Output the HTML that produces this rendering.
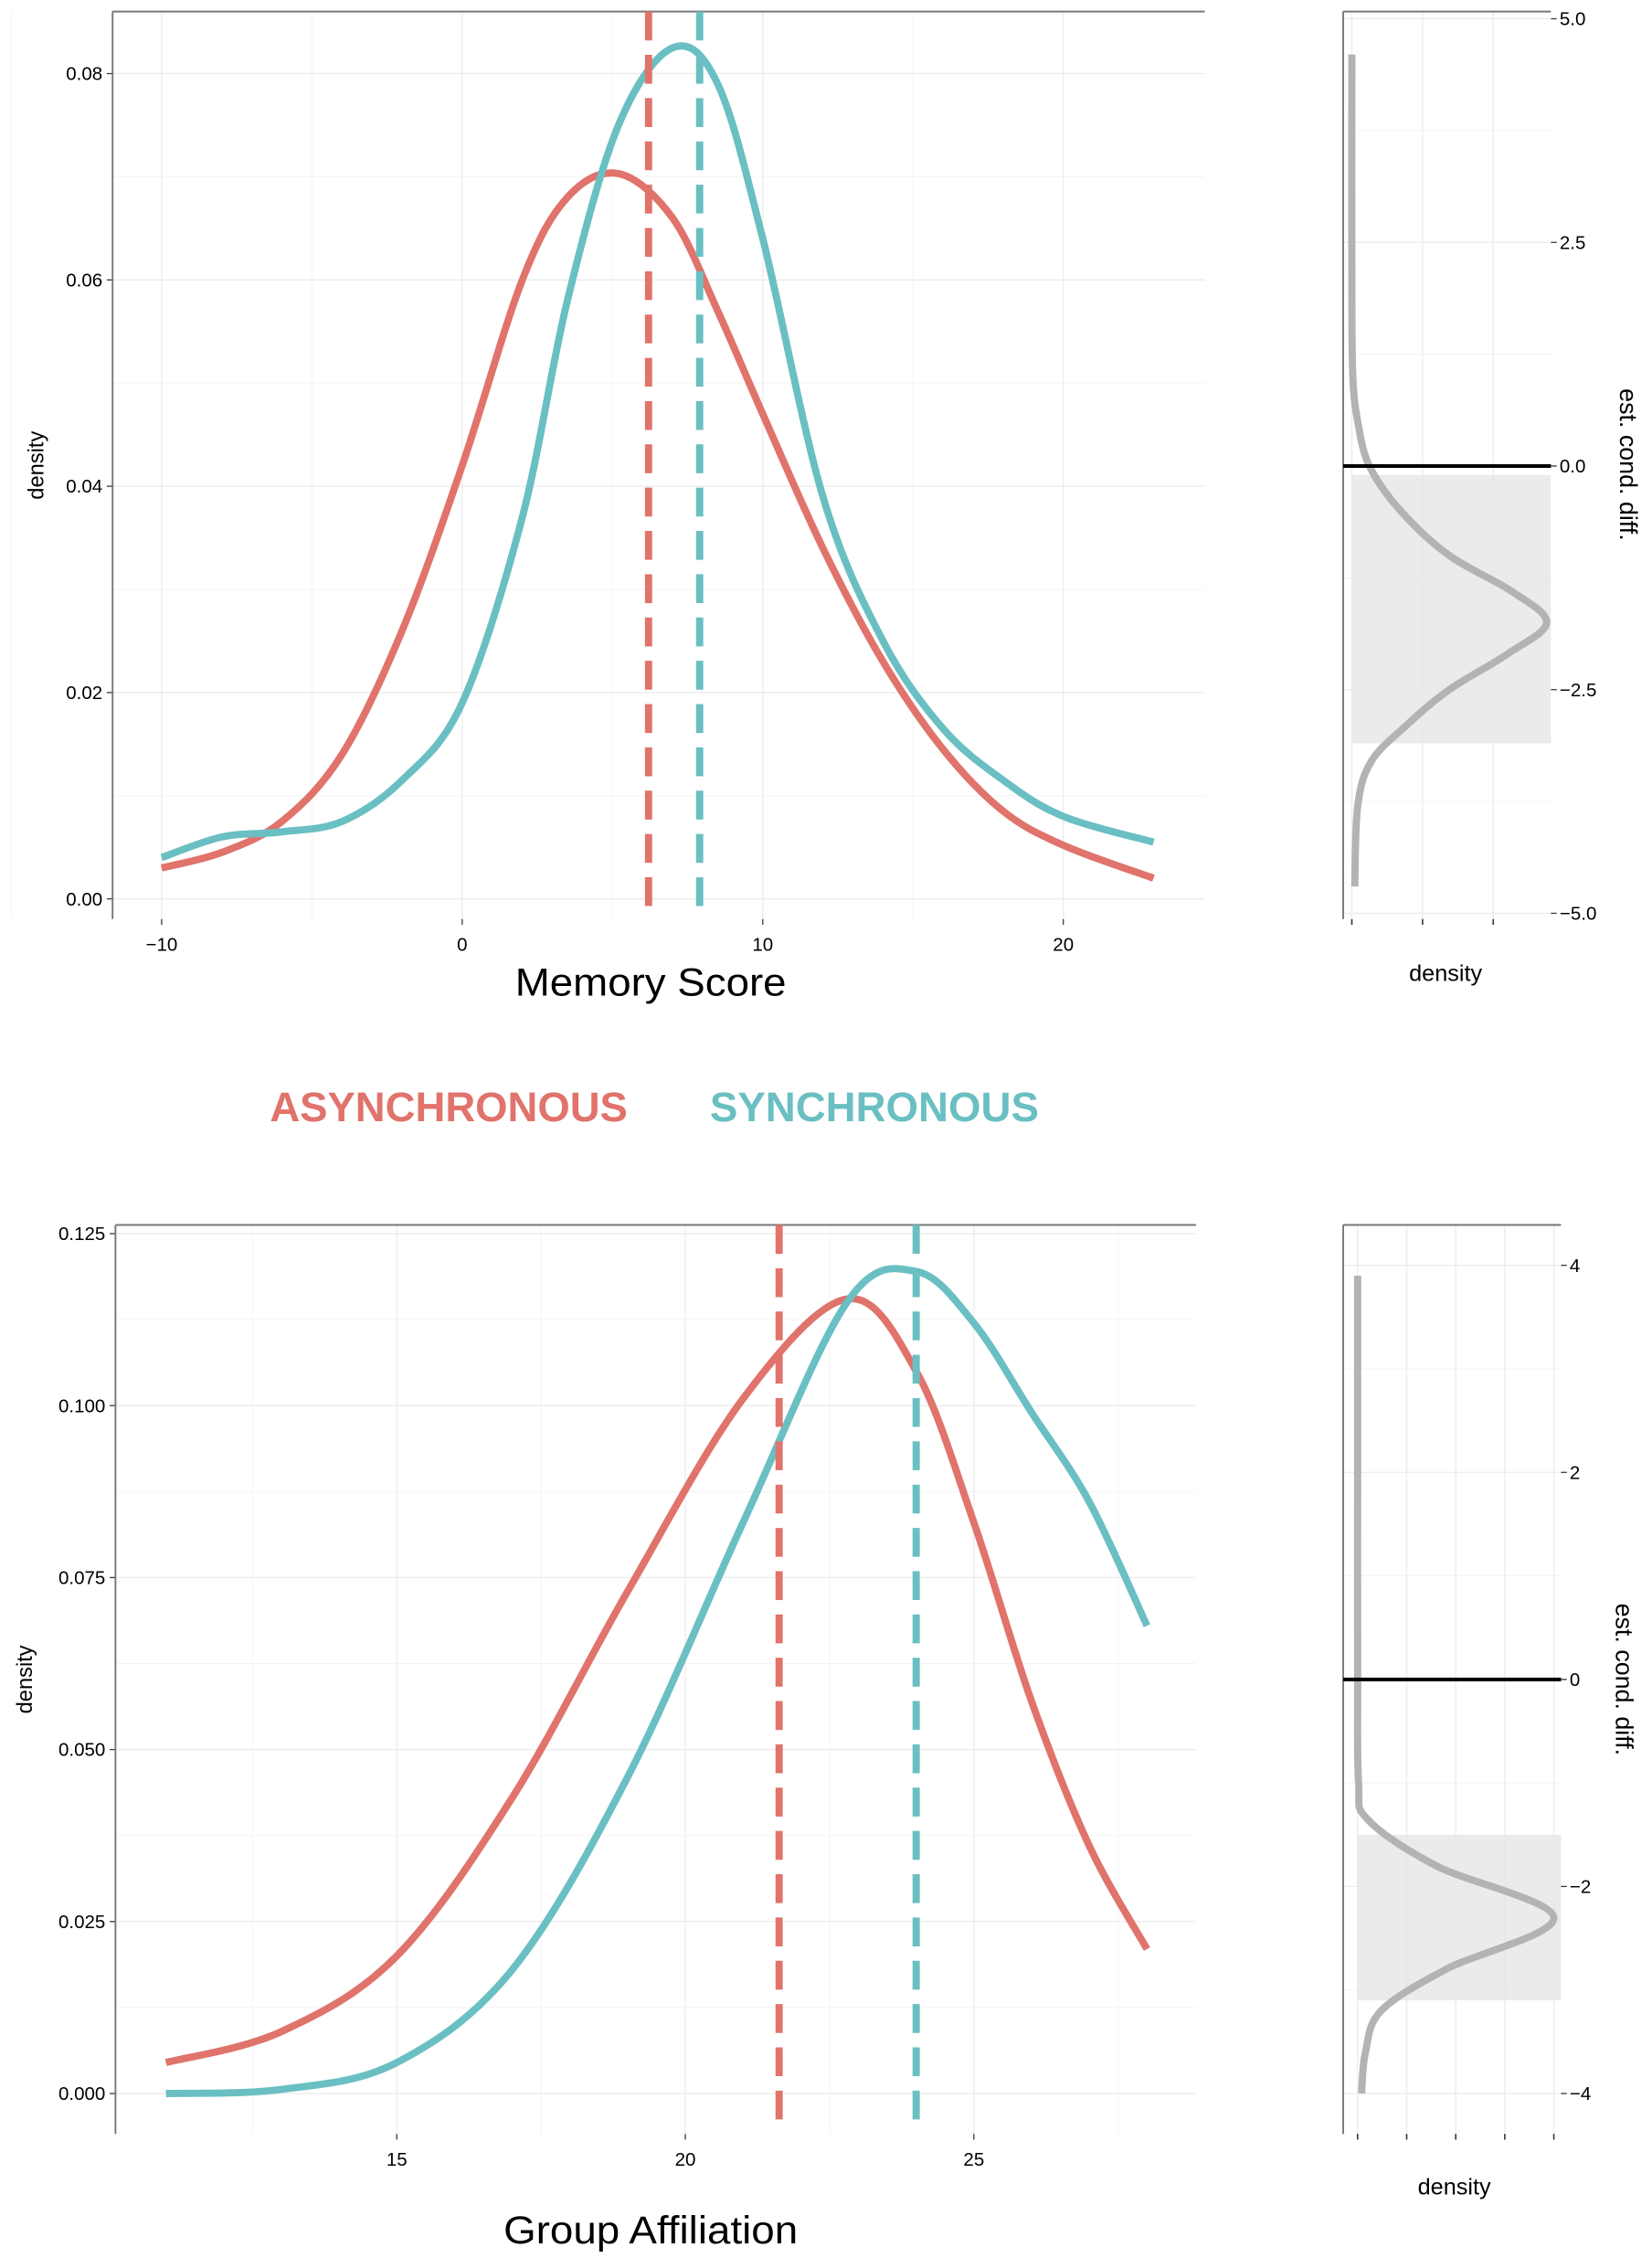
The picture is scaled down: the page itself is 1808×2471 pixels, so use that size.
<!DOCTYPE html>
<html><head><meta charset="utf-8"><style>
html,body{margin:0;padding:0;background:#fff;}
svg{display:block;font-family:"Liberation Sans",sans-serif;}
</style></head><body>
<svg id="fig" width="1808" height="2471" viewBox="0 0 1145 1565" xmlns="http://www.w3.org/2000/svg"></svg>
<script>
// ---- data ----
const memX = [-10,-8,-6,-4,-2,0,2,3.5,5.2,7,8.5,10,12,14,16,18,20,23];
const memAsync = [0.003,0.0045,0.0075,0.014,0.026,0.042,0.060,0.068,0.0703,0.066,0.057,0.047,0.034,0.023,0.0145,0.0085,0.0052,0.002];
const memSync = [0.004,0.006,0.0065,0.0075,0.0115,0.019,0.037,0.058,0.075,0.0825,0.079,0.064,0.039,0.025,0.0165,0.0115,0.008,0.0055];
const memMeans = [6.2, 7.9];
const memXTicks = [-10,0,10,20];
const memYTicks = [0,0.02,0.04,0.06,0.08];
const memYTickLabels = ['0.00','0.02','0.04','0.06','0.08'];
const memDiffY = [4.6,2,1,0.5,0,-0.5,-1,-1.4,-1.75,-2.1,-2.5,-2.9,-3.3,-3.8,-4.7];
const memDiffD = [0,0,0.005,0.03,0.09,0.25,0.5,0.82,1.0,0.8,0.5,0.28,0.1,0.03,0.015];
const memCI = [-0.1,-3.1];
const memDiffTicks = [5,2.5,0,-2.5,-5];
const memDiffLabels = ['5.0','2.5','0.0','\u22122.5','\u22125.0'];

const grpX = [11,13,15,17,19,21,22.8,24,25,26,27,28];
const grpAsync = [0.0045,0.009,0.02,0.043,0.073,0.101,0.1155,0.105,0.083,0.057,0.036,0.021];
const grpSync = [0,0.0006,0.0045,0.018,0.046,0.083,0.115,0.1195,0.112,0.099,0.086,0.068];
const grpMeans = [21.625, 24.0];
const grpXTicks = [15,20,25];
const grpYTicks = [0,0.025,0.05,0.075,0.1,0.125];
const grpYTickLabels = ['0.000','0.025','0.050','0.075','0.100','0.125'];
const grpDiffY = [3.9,2,0,-1,-1.35,-1.8,-2.3,-2.8,-3.2,-3.6,-4.0];
const grpDiffD = [0,0,0,0.005,0.05,0.4,1.0,0.45,0.12,0.04,0.02];
const grpCI = [-1.5,-3.1];
const grpDiffTicks = [4,2,0,-2,-4];
const grpDiffLabels = ['4','2','0','\u22122','\u22124'];

const RED='#E0736B', TEAL='#6ABFC2', GRID='#ebebeb';
const svg=document.getElementById('fig');
const NS='http://www.w3.org/2000/svg';
function mk(tag,attrs,parent){const e=document.createElementNS(NS,tag);for(const k in attrs)e.setAttribute(k,attrs[k]);(parent||svg).appendChild(e);return e;}
function lin(d0,d1,r0,r1){return v=>r0+(v-d0)*(r1-r0)/(d1-d0);}
function smooth(pts){let d='M'+pts[0][0]+','+pts[0][1];for(let i=0;i<pts.length-1;i++){const p0=pts[i-1]||pts[i],p1=pts[i],p2=pts[i+1],p3=pts[i+2]||p2;const c1=[p1[0]+(p2[0]-p0[0])/6,p1[1]+(p2[1]-p0[1])/6],c2=[p2[0]-(p3[0]-p1[0])/6,p2[1]-(p3[1]-p1[1])/6];d+=' C'+c1+' '+c2+' '+p2;}return d;}

function mainPanel(o){
  const g=mk('g',{});
  
  
  const xs=lin(o.xd[0],o.xd[1],o.xr[0],o.xr[1]), ys=lin(0,o.ymax,o.y0,o.ymaxPx);
  for(let i=0;i<o.xTicks.length;i++){const v=o.xTicks[i]-o.xStep/2;mk('line',{x1:xs(v),x2:xs(v),y1:o.L.t,y2:o.L.b,stroke:'#f3f3f3','stroke-width':0.6},g);}
  {const v=o.xTicks[o.xTicks.length-1]+o.xStep/2;if(xs(v)<o.L.r)mk('line',{x1:xs(v),x2:xs(v),y1:o.L.t,y2:o.L.b,stroke:'#f3f3f3','stroke-width':0.6},g);}
  for(let i=0;i<o.yTicks.length-1;i++){const v=(o.yTicks[i]+o.yTicks[i+1])/2;mk('line',{x1:o.L.l,x2:o.L.r,y1:ys(v),y2:ys(v),stroke:'#f3f3f3','stroke-width':0.6},g);}
  o.xTicks.forEach(v=>{mk('line',{x1:xs(v),x2:xs(v),y1:o.L.t,y2:o.L.b,stroke:GRID,'stroke-width':0.8},g);
    mk('line',{x1:xs(v),x2:xs(v),y1:o.L.b,y2:o.L.b+4,stroke:'#333','stroke-width':0.8},g);
    const tx=mk('text',{x:xs(v),y:o.L.b+22,'text-anchor':'middle','font-size':13,fill:'#000'},g);tx.textContent=(v<0?'\u2212'+(-v):v);
    
    });
  o.yTicks.forEach((v,i)=>{mk('line',{x1:o.L.l,x2:o.L.r,y1:ys(v),y2:ys(v),stroke:GRID,'stroke-width':0.8},g);
    mk('line',{x1:o.L.l-4,x2:o.L.l,y1:ys(v),y2:ys(v),stroke:'#333','stroke-width':0.8},g);
    const tx=mk('text',{x:o.L.l-7,y:ys(v)+4.5,'text-anchor':'end','font-size':13,fill:'#000'},g);tx.textContent=o.yLabels[i];
    
    });
  mk('line',{x1:o.L.l,x2:o.L.r,y1:o.L.t,y2:o.L.t,stroke:'#777','stroke-width':1.2},g);
  mk('line',{x1:o.L.l,x2:o.L.l,y1:o.L.t,y2:o.L.b,stroke:'#777','stroke-width':1.2},g);
  const cols=[RED,TEAL],names=['asynchronous','synchronous'];
  [o.a,o.s].forEach((ser,k)=>{const p=mk('path',{d:smooth(o.x.map((v,i)=>[xs(v),ys(ser[i])])),fill:'none',stroke:cols[k],'stroke-width':5},g);
    
    });
  o.means.forEach((m,k)=>{const l=mk('line',{x1:xs(m),x2:xs(m),y1:o.L.t,y2:o.L.b,stroke:cols[k],'stroke-width':5,'stroke-dasharray':'20 10'},g);
    
    });
  const yt=mk('text',{transform:`translate(${o.yTitleX},${(o.L.t+o.L.b)/2}) rotate(-90)`,'text-anchor':'middle','font-size':15,fill:'#000'},g);yt.textContent='density';
  
  
  const xt=mk('text',{x:o.xTitle[0],y:o.xTitle[1],'text-anchor':'middle','font-size':27,fill:'#000',textLength:o.titleLen,lengthAdjust:'spacingAndGlyphs'},g);xt.textContent=o.title;
  
  
}
function sidePanel(o){
  const g=mk('g',{});
  
  
  const ys=lin(o.yd[0],o.yd[1],o.yr[0],o.yr[1]), xs=lin(0,1,o.x0,o.x1);
  for(let i=0;i<o.ticks.length-1;i++){const v=(o.ticks[i]+o.ticks[i+1])/2;mk('line',{x1:o.L.l,x2:o.L.r,y1:ys(v),y2:ys(v),stroke:'#f3f3f3','stroke-width':0.6},g);}
  o.dTicks.forEach(v=>{mk('line',{x1:v,x2:v,y1:o.L.t,y2:o.L.b,stroke:GRID,'stroke-width':0.8},g);mk('line',{x1:v,x2:v,y1:o.L.b,y2:o.L.b+4,stroke:'#333','stroke-width':1},g);});
  o.ticks.forEach((v,i)=>{mk('line',{x1:o.L.l,x2:o.L.r,y1:ys(v),y2:ys(v),stroke:GRID,'stroke-width':0.8},g);
    mk('line',{x1:o.L.r,x2:o.L.r+4,y1:ys(v),y2:ys(v),stroke:'#333','stroke-width':0.8},g);
    const tx=mk('text',{x:o.L.r+6,y:ys(v)+4.5,'font-size':13,fill:'#000'},g);tx.textContent=o.labels[i];
    
    });
  const r=mk('rect',{x:o.x0,y:ys(o.ci[0]),width:o.L.r-o.x0,height:ys(o.ci[1])-ys(o.ci[0]),fill:'#e6e6e6','fill-opacity':0.8},g);
  
  
  mk('line',{x1:o.L.l,x2:o.L.r,y1:o.L.t,y2:o.L.t,stroke:'#777','stroke-width':1.2},g);
  mk('line',{x1:o.L.l,x2:o.L.l,y1:o.L.t,y2:o.L.b,stroke:'#777','stroke-width':1.2},g);
  const p=mk('path',{d:smooth(o.y.map((v,i)=>[xs(o.d[i]),ys(v)])),fill:'none',stroke:'#b3b3b3','stroke-width':5},g);
  
  
  const z=mk('line',{x1:o.L.l,x2:o.L.r,y1:ys(0),y2:ys(0),stroke:'#000','stroke-width':2.5},g);
  
  
  const xt=mk('text',{x:o.dTitle[0],y:o.dTitle[1],'text-anchor':'middle','font-size':16,fill:'#000'},g);xt.textContent='density';
  
  
  const yt=mk('text',{transform:`translate(${o.yTitle[0]},${o.yTitle[1]}) rotate(90)`,'text-anchor':'middle','font-size':17,fill:'#000'},g);yt.textContent='est. cond. diff.';
  
  
}

mainPanel({name:'memory-score-panel',L:{l:78,r:835,t:8,b:637},xd:[-10,20],xr:[112,737],xStep:10,ymax:0.08,y0:623,ymaxPx:51,
  x:memX,a:memAsync,s:memSync,means:memMeans,xTicks:memXTicks,yTicks:memYTicks,yLabels:memYTickLabels,yTitleX:30,xTitle:[451,690],title:'Memory Score',titleLen:188});
sidePanel({name:'memory-diff-panel',L:{l:931,r:1075,t:8,b:637},yd:[5,-5],yr:[13,633],x0:937,x1:1072,y:memDiffY,d:memDiffD,ci:memCI,
  ticks:memDiffTicks,labels:memDiffLabels,dTicks:[937,986,1035],dTitle:[1002,680],yTitle:[1123,322]});

mainPanel({name:'group-affiliation-panel',L:{l:80,r:829,t:849,b:1479},xd:[15,25],xr:[275,675],xStep:5,ymax:0.125,y0:1451,ymaxPx:855,
  x:grpX,a:grpAsync,s:grpSync,means:grpMeans,xTicks:grpXTicks,yTicks:grpYTicks,yLabels:grpYTickLabels,yTitleX:22,xTitle:[451,1555],title:'Group Affiliation',titleLen:204});
sidePanel({name:'group-diff-panel',L:{l:931,r:1082,t:849,b:1479},yd:[4,-4],yr:[877,1451],x0:941,x1:1077,y:grpDiffY,d:grpDiffD,ci:grpCI,
  ticks:grpDiffTicks,labels:grpDiffLabels,dTicks:[941,975,1009,1043,1077],dTitle:[1008,1521],yTitle:[1120,1164]});

const lg=mk('g',{});


const l1=mk('text',{x:311,y:777,'text-anchor':'middle','font-size':29,'font-weight':'bold',fill:RED,textLength:248,lengthAdjust:'spacingAndGlyphs'},lg);l1.textContent='ASYNCHRONOUS';


const l2=mk('text',{x:606,y:777,'text-anchor':'middle','font-size':29,'font-weight':'bold',fill:TEAL,textLength:228,lengthAdjust:'spacingAndGlyphs'},lg);l2.textContent='SYNCHRONOUS';


</script>
</body></html>
